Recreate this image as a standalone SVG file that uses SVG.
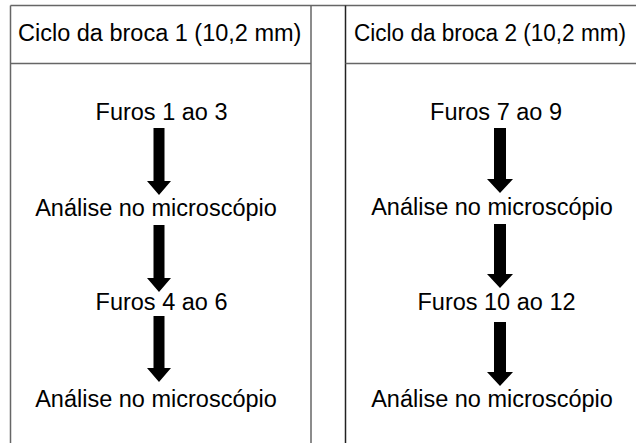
<svg xmlns="http://www.w3.org/2000/svg" width="636" height="443" viewBox="0 0 636 443">
<style>
  .t { font-family: "Liberation Sans", Arial, sans-serif; font-size: 23.5px; fill: #000; }
  .c { text-anchor: middle; }
  .frame { stroke: #666; stroke-width: 1.5; fill: none; }
  .frame2 { stroke: #222; stroke-width: 1.5; fill: none; }
  .arrow { fill: #000; stroke: none; }
</style>
<rect width="636" height="443" fill="#fff"/>
<g id="frames">
  <line class="frame" x1="10.5" y1="5.5" x2="636" y2="5.5"/>
  <line class="frame" x1="10.5" y1="5.5" x2="10.5" y2="443"/>
  <line class="frame" x1="311" y1="5.5" x2="311" y2="443"/>
  <line class="frame" x1="10.5" y1="63.5" x2="311" y2="63.5"/>
  <line class="frame2" x1="345.5" y1="5.5" x2="345.5" y2="443"/>
  <line class="frame" x1="345.5" y1="63.5" x2="636" y2="63.5"/>
</g>
<g id="header1"><text class="t" x="18" y="41">Ciclo da broca 1 (10,2 mm)</text></g>
<g id="header2"><text class="t" x="354" y="41" style="font-size:23px" textLength="272" lengthAdjust="spacingAndGlyphs">Ciclo da broca 2 (10,2 mm)</text></g>
<g id="n1"><text class="t c" x="161.5" y="120">Furos 1 ao 3</text></g>
<g id="n2"><text class="t c" x="156" y="216">Análise no microscópio</text></g>
<g id="n3"><text class="t c" x="161.5" y="310">Furos 4 ao 6</text></g>
<g id="n4"><text class="t c" x="156" y="407">Análise no microscópio</text></g>
<g id="n5"><text class="t c" x="496" y="120">Furos 7 ao 9</text></g>
<g id="n6"><text class="t c" x="492" y="215">Análise no microscópio</text></g>
<g id="n7"><text class="t c" x="496.5" y="310">Furos 10 ao 12</text></g>
<g id="n8"><text class="t c" x="492" y="407">Análise no microscópio</text></g>
<g id="connectors">
  <polygon class="arrow" points="153.5,128 164.5,128 164.5,181 171,181 159,195 147,181 153.5,181"/>
  <polygon class="arrow" points="153.5,225 164.5,225 164.5,278 171,278 159,292 147,278 153.5,278"/>
  <polygon class="arrow" points="153.5,316 164.5,316 164.5,368 171,368 159,382 147,368 153.5,368"/>
  <polygon class="arrow" points="494,128 506,128 506,179 513,179 500,193 487,179 494,179"/>
  <polygon class="arrow" points="494,224 506,224 506,274 513,274 500,288 487,274 494,274"/>
  <polygon class="arrow" points="494,322 506,322 506,372 513,372 500,386 487,372 494,372"/>
</g>
</svg>
